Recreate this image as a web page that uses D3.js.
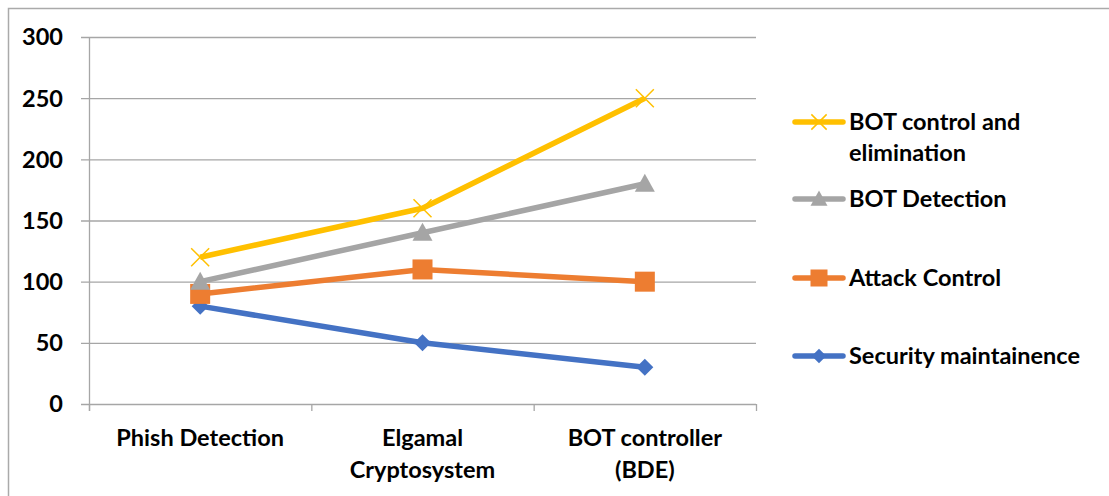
<!DOCTYPE html>
<html><head><meta charset="utf-8">
<script src="https://cdn.jsdelivr.net/npm/d3@7"></script>
<style>body{margin:0;background:#fff}svg{display:block}text{font-family:Lato,"Open Sans",sans-serif;font-weight:bold;fill:#000}</style>
</head><body>
<svg id="c" width="1109" height="496"></svg>
<script>
const categories = [["Phish Detection"], ["Elgamal", "Cryptosystem"], ["BOT controller", "(BDE)"]];
const yTicks = [0, 50, 100, 150, 200, 250, 300];
const seriesNames = ["Security maintainence", "Attack Control", "BOT Detection", "BOT control and elimination"];
const securityValues = [80, 50, 30];
const attackValues = [90, 110, 100];
const detectionValues = [100, 140, 180];
const eliminationValues = [120, 160, 250];
const colors = ["#4472C4", "#ED7D31", "#A5A5A5", "#FFC000"];
const markers = ["diamond", "square", "triangle", "x"];
const allValues = [securityValues, attackValues, detectionValues, eliminationValues];
const FS = 23.5;

const svg = d3.select("#c");
svg.append("path").attr("d", "M8.5,496 V8.5 H1109").attr("fill", "none").attr("stroke", "#aaa").attr("stroke-width", 1.5);

const x = d3.scaleBand().domain(d3.range(categories.length)).range([89, 756]);
const y = d3.scaleLinear().domain([0, 300]).range([404, 37]);

const gy = svg.append("g");
yTicks.forEach(t => {
  gy.append("line").attr("x1", 81).attr("x2", 756).attr("y1", y(t)+0.5).attr("y2", y(t)+0.5).attr("stroke", "#a6a6a6").attr("stroke-width", 1.3);
  gy.append("text").attr("x", 63).attr("y", y(t) + FS*0.36).attr("text-anchor", "end").attr("font-size", FS).text(t);
});
svg.append("line").attr("x1", 89.5).attr("x2", 89.5).attr("y1", y(300)).attr("y2", 411).attr("stroke", "#a6a6a6").attr("stroke-width", 1.3);
d3.range(categories.length + 1).forEach(i => {
  const xx = i < categories.length ? x(i) : x.range()[1];
  svg.append("line").attr("x1", xx+0.5).attr("x2", xx+0.5).attr("y1", 404).attr("y2", 411).attr("stroke", "#a6a6a6").attr("stroke-width", 1.3);
});
categories.forEach((lines, i) => {
  const cx = x(i) + x.bandwidth()/2;
  lines.forEach((l, j) => svg.append("text").attr("x", cx).attr("y", 438 + FS*0.36 + j*32).attr("text-anchor", "middle").attr("font-size", FS).text(l));
});

function drawMarker(g, type, cx, cy, color, scale) {
  const s = scale || 1;
  if (type === "diamond") {
    const r = 8.5*s;
    g.append("path").attr("d", `M${cx},${cy-r} L${cx+r},${cy} L${cx},${cy+r} L${cx-r},${cy} Z`).attr("fill", color);
  } else if (type === "square") {
    const r = 10*s;
    g.append("rect").attr("x", cx-r).attr("y", cy-r).attr("width", 2*r).attr("height", 2*r).attr("fill", color);
  } else if (type === "triangle") {
    const r = 10*s;
    g.append("path").attr("d", `M${cx},${cy-r} L${cx+r},${cy+r*0.8} L${cx-r},${cy+r*0.8} Z`).attr("fill", color);
  } else {
    const r = 9*s;
    g.append("path").attr("d", `M${cx-r},${cy-r} L${cx+r},${cy+r} M${cx+r},${cy-r} L${cx-r},${cy+r}`).attr("stroke", color).attr("stroke-width", 1.5).attr("fill", "none");
  }
}

const line = d3.line().x((d, i) => x(i) + x.bandwidth()/2).y(d => y(d));
allValues.forEach((vals, k) => {
  const g = svg.append("g");
  g.append("path").attr("d", line(vals)).attr("fill", "none").attr("stroke", colors[k]).attr("stroke-width", 5.5).attr("stroke-linejoin", "round");
  vals.forEach((v, i) => drawMarker(g, markers[k], x(i) + x.bandwidth()/2, y(v), colors[k]));
});

const legendRows = [
  {k: 3, y: 122, lines: ["BOT control and", "elimination"]},
  {k: 2, y: 199, lines: ["BOT Detection"]},
  {k: 1, y: 278, lines: ["Attack Control"]},
  {k: 0, y: 356, lines: ["Security maintainence"]}
];
legendRows.forEach(r => {
  const g = svg.append("g");
  g.append("line").attr("x1", 795).attr("x2", 843).attr("y1", r.y).attr("y2", r.y).attr("stroke", colors[r.k]).attr("stroke-width", 5.5).attr("stroke-linecap", "round");
  drawMarker(g, markers[r.k], 819, r.y, colors[r.k], 0.85);
  r.lines.forEach((l, j) => g.append("text").attr("x", 849).attr("y", r.y + FS*0.36 + j*31).attr("font-size", FS).text(l));
});
</script>
</body></html>
